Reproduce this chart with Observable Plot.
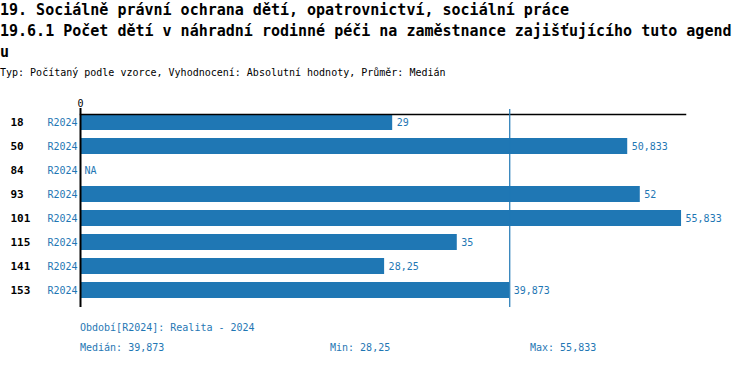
<!DOCTYPE html>
<html><head><meta charset="utf-8">
<script src="https://cdn.jsdelivr.net/npm/d3@7"></script>
<script src="https://cdn.jsdelivr.net/npm/@observablehq/plot@0.6"></script>
<style>
body{margin:0;background:#fff;font-family:"DejaVu Sans Mono",monospace;}
#wrap{position:relative;width:750px;height:366px;overflow:hidden}
.t{position:absolute;left:0;white-space:nowrap;font-weight:bold;font-size:15px;line-height:18px;color:#000}
.s{position:absolute;left:0;white-space:nowrap;font-size:10px;line-height:12px;color:#000}
.f{position:absolute;white-space:nowrap;font-size:10px;line-height:12px;color:#1f77b4}
#chart{position:absolute;left:0;top:94px}
</style></head>
<body>
<div id="wrap">
<div class="t" style="top:1px">19. Sociálně právní ochrana dětí, opatrovnictví, sociální práce</div>
<div class="t" style="top:22px">19.6.1 Počet dětí v náhradní rodinné péči na zaměstnance zajišťujícího tuto agend</div>
<div class="t" style="top:43px">u</div>
<div class="s" style="top:67px">Typ: Počítaný podle vzorce, Vyhodnocení: Absolutní hodnoty, Průměr: Medián</div>
<div id="chart"></div>
<div class="f" id="period" style="left:80px;top:322px"></div>
<div class="f" id="med" style="left:80px;top:342px"></div>
<div class="f" id="min" style="left:330px;top:342px"></div>
<div class="f" id="max" style="left:530px;top:342px"></div>
</div>
<script>
const categories = ["18", "50", "84", "93", "101", "115", "141", "153"];
const values = [29, 50.833, null, 52, 55.833, 35, 28.25, 39.873];
const periodCode = "R2024";
const periodLabel = "Realita - 2024";

const blue = "#1f77b4";
const fmt = v => v == null ? "NA" : String(v).replace(".", ",");
const data = categories.map((c, i) => ({cat: c, value: values[i]}));
const valid = values.filter(v => v != null);
const med = d3.median(valid), mn = d3.min(valid), mx = d3.max(valid);

const chart = Plot.plot({
  width: 750,
  height: 218,
  marginLeft: 80,
  marginRight: 65,
  marginTop: 20,
  marginBottom: 6,
  style: {fontFamily: "DejaVu Sans Mono, monospace", fontSize: "10px", background: "white"},
  x: {domain: [0, 56.2], axis: null},
  y: {domain: categories, axis: null, padding: 0},
  marks: [
    Plot.barX(data.filter(d => d.value != null), {x: "value", y: "cat", fill: blue, insetTop: 0, insetBottom: 8}),
    Plot.frame({anchor: "top", stroke: "black", strokeWidth: 1.5}),
    Plot.ruleX([med], {stroke: blue, strokeWidth: 1.2, insetTop: -5, insetBottom: -1}),
    Plot.ruleX([0], {stroke: "black", strokeWidth: 2, insetTop: -6, insetBottom: -1}),
    Plot.axisX({anchor: "top", ticks: [0], tickSize: 0, tickPadding: 8, fontSize: 10, fill: "black", label: null}),
    Plot.text(data, {y: "cat", text: "cat", frameAnchor: "left", dx: -70, dy: -4, textAnchor: "start", fontWeight: "bold", fontSize: 11, fill: "black"}),
    Plot.text(data, {y: "cat", text: d => periodCode, frameAnchor: "left", dx: -3, dy: -4, textAnchor: "end", fontSize: 10, fill: blue}),
    Plot.text(data, {y: "cat", x: d => d.value ?? 0, text: d => fmt(d.value), dx: 4, dy: -4, textAnchor: "start", fontSize: 10, fill: blue})
  ]
});
document.getElementById("chart").appendChild(chart);
document.getElementById("period").textContent = "Období[" + periodCode + "]: " + periodLabel;
document.getElementById("med").textContent = "Medián: " + fmt(med);
document.getElementById("min").textContent = "Min: " + fmt(mn);
document.getElementById("max").textContent = "Max: " + fmt(mx);
</script>
</body></html>
